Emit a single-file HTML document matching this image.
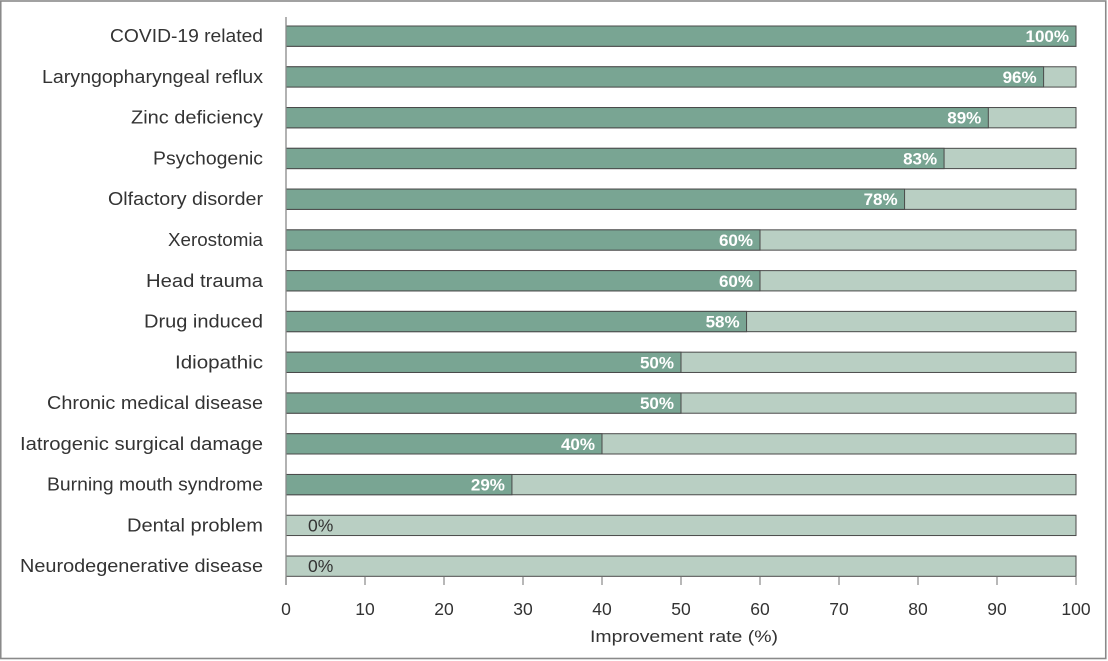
<!DOCTYPE html>
<html><head><meta charset="utf-8"><style>
html,body{margin:0;padding:0;background:#fff;}
svg{display:block;}
</style></head><body>
<svg width="1108" height="661" viewBox="0 0 1108 661" xmlns="http://www.w3.org/2000/svg" font-family="Liberation Sans, DejaVu Sans, sans-serif">
<rect x="0.75" y="1" width="1105" height="657.5" fill="#fff" stroke="#8a8a8a" stroke-width="1.6"/>

<g stroke="#4a4a4a" stroke-width="1">
<rect x="286" y="26.00" width="790" height="20.3" fill="#b9cfc3"/>
<rect x="286" y="66.77" width="790" height="20.3" fill="#b9cfc3"/>
<rect x="286" y="107.54" width="790" height="20.3" fill="#b9cfc3"/>
<rect x="286" y="148.31" width="790" height="20.3" fill="#b9cfc3"/>
<rect x="286" y="189.08" width="790" height="20.3" fill="#b9cfc3"/>
<rect x="286" y="229.85" width="790" height="20.3" fill="#b9cfc3"/>
<rect x="286" y="270.62" width="790" height="20.3" fill="#b9cfc3"/>
<rect x="286" y="311.39" width="790" height="20.3" fill="#b9cfc3"/>
<rect x="286" y="352.16" width="790" height="20.3" fill="#b9cfc3"/>
<rect x="286" y="392.93" width="790" height="20.3" fill="#b9cfc3"/>
<rect x="286" y="433.70" width="790" height="20.3" fill="#b9cfc3"/>
<rect x="286" y="474.47" width="790" height="20.3" fill="#b9cfc3"/>
<rect x="286" y="515.24" width="790" height="20.3" fill="#b9cfc3"/>
<rect x="286" y="556.01" width="790" height="20.3" fill="#b9cfc3"/>

<rect x="286" y="26.00" width="790" height="20.3" fill="#79a593"/>
<rect x="286" y="66.77" width="757.61" height="20.3" fill="#79a593"/>
<rect x="286" y="107.54" width="702.31" height="20.3" fill="#79a593"/>
<rect x="286" y="148.31" width="658.07" height="20.3" fill="#79a593"/>
<rect x="286" y="189.08" width="618.57" height="20.3" fill="#79a593"/>
<rect x="286" y="229.85" width="474" height="20.3" fill="#79a593"/>
<rect x="286" y="270.62" width="474" height="20.3" fill="#79a593"/>
<rect x="286" y="311.39" width="460.57" height="20.3" fill="#79a593"/>
<rect x="286" y="352.16" width="395" height="20.3" fill="#79a593"/>
<rect x="286" y="392.93" width="395" height="20.3" fill="#79a593"/>
<rect x="286" y="433.70" width="316" height="20.3" fill="#79a593"/>
<rect x="286" y="474.47" width="225.94" height="20.3" fill="#79a593"/>
</g>

<g font-size="17" font-weight="bold" fill="#fff" text-anchor="end">
<text x="1069" y="42.15">100%</text>
<text x="1036.6" y="82.92">96%</text>
<text x="981.3" y="123.69">89%</text>
<text x="937.1" y="164.46">83%</text>
<text x="897.6" y="205.23">78%</text>
<text x="753" y="246.00">60%</text>
<text x="753" y="286.77">60%</text>
<text x="739.6" y="327.54">58%</text>
<text x="674" y="368.31">50%</text>
<text x="674" y="409.08">50%</text>
<text x="595" y="449.85">40%</text>
<text x="504.9" y="490.62">29%</text>
</g>
<g font-size="17.5" fill="#333">
<text x="308" y="531.39">0%</text>
<text x="308" y="572.16">0%</text>
</g>

<g font-size="18" fill="#333" text-anchor="end">
<text x="263" y="42.15" textLength="153" lengthAdjust="spacingAndGlyphs">COVID-19 related</text>
<text x="263" y="82.92" textLength="221" lengthAdjust="spacingAndGlyphs">Laryngopharyngeal reflux</text>
<text x="263" y="123.69" textLength="132" lengthAdjust="spacingAndGlyphs">Zinc deficiency</text>
<text x="263" y="164.46" textLength="110" lengthAdjust="spacingAndGlyphs">Psychogenic</text>
<text x="263" y="205.23" textLength="155" lengthAdjust="spacingAndGlyphs">Olfactory disorder</text>
<text x="263" y="246.00" textLength="95" lengthAdjust="spacingAndGlyphs">Xerostomia</text>
<text x="263" y="286.77" textLength="117" lengthAdjust="spacingAndGlyphs">Head trauma</text>
<text x="263" y="327.54" textLength="119" lengthAdjust="spacingAndGlyphs">Drug induced</text>
<text x="263" y="368.31" textLength="88" lengthAdjust="spacingAndGlyphs">Idiopathic</text>
<text x="263" y="409.08" textLength="216" lengthAdjust="spacingAndGlyphs">Chronic medical disease</text>
<text x="263" y="449.85" textLength="243" lengthAdjust="spacingAndGlyphs">Iatrogenic surgical damage</text>
<text x="263" y="490.62" textLength="216" lengthAdjust="spacingAndGlyphs">Burning mouth syndrome</text>
<text x="263" y="531.39" textLength="136" lengthAdjust="spacingAndGlyphs">Dental problem</text>
<text x="263" y="572.16" textLength="243" lengthAdjust="spacingAndGlyphs">Neurodegenerative disease</text>
</g>

<line x1="286" y1="17" x2="286" y2="585" stroke="#888" stroke-width="1.3"/>
<g stroke="#888" stroke-width="1.2">
<line x1="286" y1="577" x2="286" y2="585"/><line x1="365" y1="577" x2="365" y2="585"/><line x1="444" y1="577" x2="444" y2="585"/><line x1="523" y1="577" x2="523" y2="585"/><line x1="602" y1="577" x2="602" y2="585"/><line x1="681" y1="577" x2="681" y2="585"/><line x1="760" y1="577" x2="760" y2="585"/><line x1="839" y1="577" x2="839" y2="585"/><line x1="918" y1="577" x2="918" y2="585"/><line x1="997" y1="577" x2="997" y2="585"/><line x1="1076" y1="577" x2="1076" y2="585"/>
</g>
<g font-size="17.5" fill="#333" text-anchor="middle">
<text x="286" y="615">0</text><text x="365" y="615">10</text><text x="444" y="615">20</text><text x="523" y="615">30</text><text x="602" y="615">40</text><text x="681" y="615">50</text><text x="760" y="615">60</text><text x="839" y="615">70</text><text x="918" y="615">80</text><text x="997" y="615">90</text><text x="1076" y="615">100</text>
</g>
<text x="684" y="642" font-size="17" fill="#333" text-anchor="middle" textLength="188" lengthAdjust="spacingAndGlyphs">Improvement rate (%)</text>
</svg>
</body></html>
